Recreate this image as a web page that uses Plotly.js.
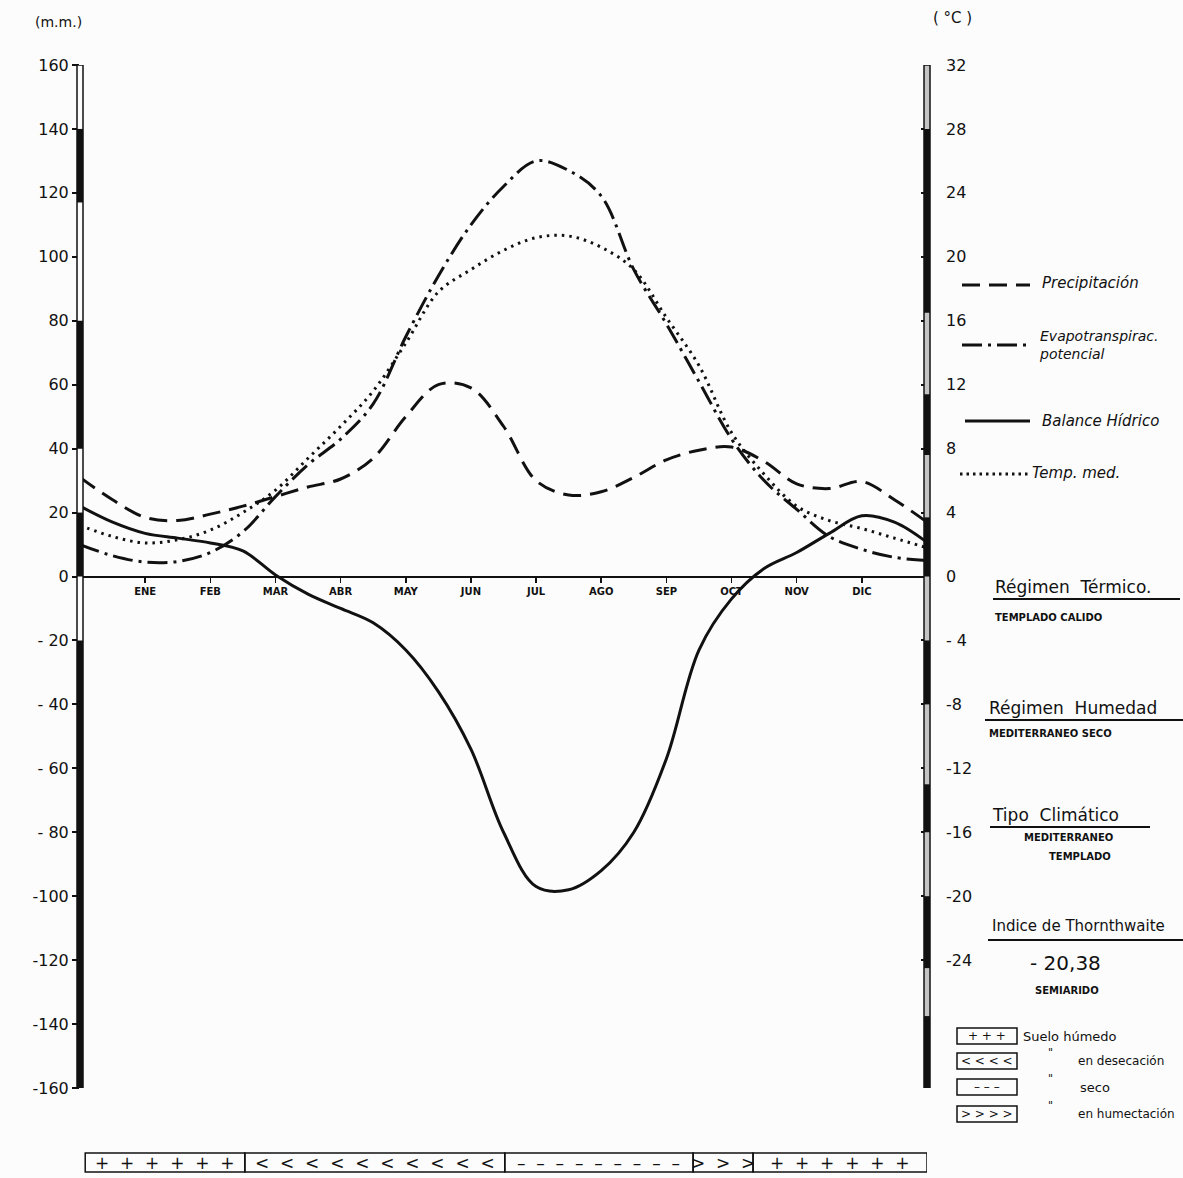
<!DOCTYPE html>
<html><head><meta charset="utf-8">
<script src="https://cdn.plot.ly/plotly-3.0.1.min.js"></script>
<style>body{margin:0;background:#fcfcfc}#chart{width:1183px;height:1178px}</style>
</head><body><div id="chart"></div>
<script>
// ---- data ----
const meses = [0,0.5,1,1.5,2,2.5,3,3.5,4,4.5,5,5.5,6,6.5,7,7.5,8,8.5,9,9.5,10,10.5,11,11.5,12,12.5,13];
const precipitacion = [31,24,18.5,17.5,19.5,22,25,28,30.5,37,50,60,59,47,30,25.5,26.5,31,36.5,39.5,40.5,36,29,27.5,29.7,24,17];
const evapotranspiracion = [10,6.5,4.5,4.7,7.5,14,25,35,43,54,75,94,110,122,130,127,119,96,79,61,43,30,21,12.5,8.5,6,5];
const balanceHidrico = [22,17,13.5,12,10.5,8,0.5,-5.5,-10,-14.5,-23,-36,-54,-80,-97,-98,-92,-80,-57,-23,-7,2.5,7.5,13.5,19,17,10.7];
const tempMedia = [3.2,2.5,2.1,2.3,2.9,4.0,5.4,7.4,9.4,11.6,14.6,17.8,19.2,20.4,21.2,21.3,20.6,19.2,16.2,13.2,9.0,6.4,4.4,3.5,3.0,2.4,1.8];
const mesTicks = [1,2,3,4,5,6,7,8,9,10,11,12];
const mesLabels = ['ENE','FEB','MAR','ABR','MAY','JUN','JUL','AGO','SEP','OCT','NOV','DIC'];
const mmTicks = [160,140,120,100,80,60,40,20,0,-20,-40,-60,-80,-100,-120,-140,-160];
const mmLabels = ['160','140','120','100','80','60','40','20','0','- 20','- 40','- 60','- 80','-100','-120','-140','-160'];
const gradosTicks = [32,28,24,20,16,12,8,4,0,-4,-8,-12,-16,-20,-24];
const gradosLabels = ['32','28','24','20','16','12','8','4','0','- 4','-8','-12','-16','-20','-24'];
const sueloTramos = [0.08,2.53,6.52,9.41,10.33,13];
const sueloSimbolos = ['+  +  +  +  +  +','&lt;  &lt;  &lt;  &lt;  &lt;  &lt;  &lt;  &lt;  &lt;  &lt;','–  –  –  –  –  –  –  –  –','&gt;  &gt;  &gt;','+  +  +  +  +  +'];
const barraIzqNegra = [[117,140],[40,80],[0,20],[-160,-20]];
const barraDerNegra = [[16.5,28],[7.6,11.4],[0,3.7],[-8,-4],[-16,-13],[-24.5,-20],[-32,-27.5]];

// ---- layout helpers (pixel -> paper) ----
const L=80, R=927, T=65, B=1088;
const px = p => (p-L)/(R-L);
const py = p => (B-p)/(B-T);
const FONT = 'DejaVu Sans, Liberation Sans, sans-serif';
const INK = '#111';
const BG = '#fcfcfc';

const traces = [
  {x:meses, y:precipitacion, name:'Precipitación', mode:'lines', line:{color:INK,width:3,dash:'18px,9px',shape:'spline',smoothing:1}},
  {x:meses, y:evapotranspiracion, name:'Evapotranspirac. potencial', mode:'lines', line:{color:INK,width:3,dash:'20px,6px,3px,6px',shape:'spline',smoothing:1}},
  {x:meses, y:balanceHidrico, name:'Balance Hídrico', mode:'lines', line:{color:INK,width:3,shape:'spline',smoothing:1}},
  {x:meses, y:tempMedia, name:'Temp. med.', yaxis:'y2', mode:'lines', line:{color:INK,width:3,dash:'2.5px,5px',shape:'spline',smoothing:1}}
];

const shapes = [];
const annotations = [];
// left thermometer-style axis bar
shapes.push({type:'rect',xref:'paper',xsizemode:'pixel',xanchor:0,x0:-3,x1:3,yref:'y',y0:-160,y1:160,line:{color:INK,width:1.5},fillcolor:BG,layer:'above'});
barraIzqNegra.forEach(s=>shapes.push({type:'rect',xref:'paper',xsizemode:'pixel',xanchor:0,x0:-3,x1:3,yref:'y',y0:s[0],y1:s[1],line:{width:0},fillcolor:INK,layer:'above'}));
// right axis bar
shapes.push({type:'rect',xref:'paper',xsizemode:'pixel',xanchor:1,x0:-3,x1:3,yref:'y2',y0:-32,y1:32,line:{color:INK,width:1.5},fillcolor:'#c4c4c4',layer:'above'});
barraDerNegra.forEach(s=>shapes.push({type:'rect',xref:'paper',xsizemode:'pixel',xanchor:1,x0:-3,x1:3,yref:'y2',y0:s[0],y1:s[1],line:{width:0},fillcolor:INK,layer:'above'}));

// soil strip at bottom
for(let i=0;i<sueloSimbolos.length;i++){
  shapes.push({type:'rect',xref:'x',yref:'paper',x0:sueloTramos[i],x1:sueloTramos[i+1],y0:py(1172),y1:py(1153),line:{color:INK,width:1.5}});
  annotations.push({xref:'x',yref:'paper',x:(sueloTramos[i]+sueloTramos[i+1])/2,y:py(1163),xanchor:'center',yanchor:'middle',text:sueloSimbolos[i],showarrow:false,font:{family:FONT,size:17,color:INK}});
}

// legend samples
const leyenda = [
  {y:285, dash:'18px,9px', x0:962, x1:1030},
  {y:345, dash:'20px,6px,3px,6px', x0:962, x1:1030},
  {y:421, dash:'solid', x0:965, x1:1030},
  {y:474, dash:'2.5px,4px', x0:960, x1:1028}
];
leyenda.forEach(l=>shapes.push({type:'line',xref:'paper',yref:'paper',x0:px(l.x0),x1:px(l.x1),y0:py(l.y),y1:py(l.y),line:{color:INK,width:3,dash:l.dash}}));
const txt = (x,y,text,size,opts={}) => annotations.push(Object.assign({xref:'paper',yref:'paper',x:px(x),y:py(y),text:text,showarrow:false,xanchor:'left',yanchor:'middle',font:{family:FONT,size:size,color:INK}},opts));
txt(1040,283,'<i>Precipitación</i>',15);
txt(1037,345,'<i>Evapotranspirac.<br>potencial</i>',14,{align:'left'});
txt(1040,421,'<i>Balance Hídrico</i>',15);
txt(1030,473,'<i>Temp. med.</i>',15);

txt(58,22,'(m.m.)',14,{xanchor:'center'});
txt(953,18,'( °C )',15,{xanchor:'center'});

// classification block
txt(993,587,'Régimen  Térmico.',17);
txt(993,617,'<b>TEMPLADO CALIDO</b>',10);
txt(987,708,'Régimen  Humedad',17);
txt(987,733,'<b>MEDITERRANEO SECO</b>',10);
txt(990,815,'Tipo  Climático',17);
txt(1068,837,'<b>MEDITERRANEO</b>',10,{xanchor:'center'});
txt(1080,856,'<b>TEMPLADO</b>',10,{xanchor:'center'});
txt(990,926,'Indice de Thornthwaite',15);
txt(1065,963,'- 20,38',20,{xanchor:'center'});
txt(1067,990,'<b>SEMIARIDO</b>',10,{xanchor:'center'});
[[993,1180,599],[985,1183,720],[990,1150,827],[988,1183,940]].forEach(u=>shapes.push({type:'line',xref:'paper',yref:'paper',x0:px(u[0]),x1:px(u[1]),y0:py(u[2]),y1:py(u[2]),line:{color:INK,width:2}}));

// soil legend
const sueloLeyenda = [
  {y:1036, sym:'+ + +', label:'Suelo húmedo', lx:1021, q:''},
  {y:1061, sym:'&lt; &lt; &lt; &lt;', label:'en desecación', lx:1076, q:'"'},
  {y:1087, sym:'– – –', label:'seco', lx:1078, q:'"'},
  {y:1114, sym:'&gt; &gt; &gt; &gt;', label:'en humectación', lx:1076, q:'"'}
];
sueloLeyenda.forEach(s=>{
  shapes.push({type:'rect',xref:'paper',yref:'paper',x0:px(957),x1:px(1017),y0:py(s.y+8),y1:py(s.y-8),line:{color:INK,width:1.5}});
  annotations.push({xref:'paper',yref:'paper',x:px(987),y:py(s.y),xanchor:'center',yanchor:'middle',text:s.sym,showarrow:false,font:{family:FONT,size:12,color:INK}});
  txt(s.lx,s.y,s.label,s.label.length>12?12:13);
  if(s.q) txt(1046,s.y-9,s.q,11);
});

const layout = {
  width:1183, height:1178,
  margin:{l:L,r:1183-R,t:T,b:1178-B},
  paper_bgcolor:BG, plot_bgcolor:BG,
  showlegend:false,
  font:{family:FONT,color:INK},
  xaxis:{range:[0,13],anchor:'free',position:0.5,showline:true,linecolor:INK,linewidth:2,
         ticks:'outside',ticklen:5,tickwidth:1.5,tickcolor:INK,tickvals:mesTicks,ticktext:mesLabels,
         tickfont:{size:10,family:FONT,weight:'bold'},showgrid:false,zeroline:false},
  yaxis:{range:[-160,160],tickvals:mmTicks,ticktext:mmLabels,ticks:'outside',ticklen:7,tickwidth:2,tickcolor:INK,
         tickfont:{size:16,family:FONT},showgrid:false,zeroline:false,showline:false},
  yaxis2:{range:[-32,32],overlaying:'y',side:'right',tickvals:gradosTicks,ticktext:gradosLabels,ticks:'inside',ticklen:6,tickwidth:2,tickcolor:INK,
          tickfont:{size:16,family:FONT},showgrid:false,zeroline:false,showline:false,ticklabelstandoff:18},
  shapes:shapes,
  annotations:annotations
};
Plotly.newPlot('chart',traces,layout,{staticPlot:true,displayModeBar:false});
</script>
</body></html>
